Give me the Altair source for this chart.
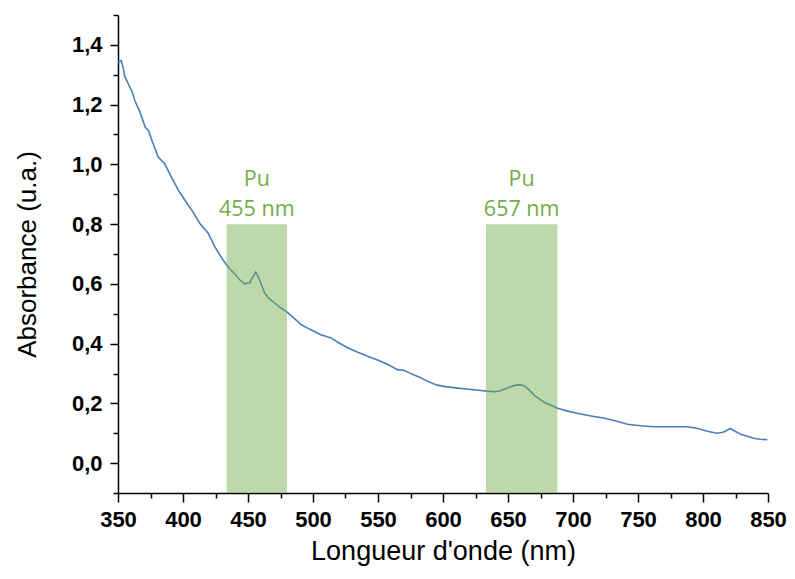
import altair as alt
import pandas as pd

wavelength = [350, 352.5, 354, 355, 358, 361, 363, 367, 371, 373.5, 377, 381, 386, 391, 396.5,
              401.5, 406.7, 413, 419.5, 424.5, 430, 435, 440, 444, 447.5, 451.3, 454, 456, 459,
              462.8, 466, 470.5, 475, 479.4, 485, 491, 498, 506, 514, 520, 526.6, 534, 542, 552,
              558, 565, 570, 576, 582.8, 589, 595.6, 602, 609.6, 618, 627.4, 634, 640, 644, 648,
              652, 655.5, 659, 662, 666, 671, 678.5, 688.7, 696, 704, 714, 724.4, 733, 742, 752,
              762.7, 775, 788, 796, 804, 811, 816, 821, 825, 829, 834, 839, 844, 849.5]
absorbance = [1.341, 1.347, 1.324, 1.297, 1.269, 1.241, 1.213, 1.174, 1.124, 1.113, 1.069, 1.024,
              1.002, 0.958, 0.913, 0.88, 0.847, 0.802, 0.769, 0.724, 0.685, 0.655, 0.632, 0.612,
              0.600, 0.604, 0.625, 0.639, 0.613, 0.569, 0.552, 0.536, 0.52, 0.508, 0.487, 0.463,
              0.447, 0.43, 0.419, 0.402, 0.386, 0.372, 0.358, 0.341, 0.329, 0.313, 0.311, 0.298,
              0.286, 0.272, 0.261, 0.256, 0.252, 0.248, 0.244, 0.241, 0.239, 0.242, 0.249, 0.256,
              0.261, 0.262, 0.26, 0.246, 0.224, 0.202, 0.183, 0.174, 0.166, 0.158, 0.15, 0.141,
              0.13, 0.125, 0.122, 0.122, 0.122, 0.116, 0.106, 0.1, 0.104, 0.116, 0.106, 0.097,
              0.09, 0.083, 0.08, 0.078]

band_start = [433.5, 633]
band_end = [480, 688]
band_top = [0.8, 0.8]
band_label = [["Pu", "455 nm"], ["Pu", "657 nm"]]

x_major = list(range(350, 851, 50))
x_minor = list(range(375, 826, 50))
y_major = [0.0, 0.2, 0.4, 0.6, 0.8, 1.0, 1.2, 1.4]
y_minor = [-0.1, 0.1, 0.3, 0.5, 0.7, 0.9, 1.1, 1.3, 1.5]

spec = pd.DataFrame({"wl": wavelength, "abs": absorbance})
bands = pd.DataFrame({"x": band_start, "x2": band_end, "top": band_top,
                      "bottom": [-0.1, -0.1],
                      "mid": [(a + b) / 2 for a, b in zip(band_start, band_end)],
                      "label": band_label})

xscale = alt.Scale(domain=[350, 850], nice=False, zero=False)
yscale = alt.Scale(domain=[-0.1, 1.5], nice=False, zero=False)

common = dict(grid=False, domainColor="black", tickColor="black",
              domainWidth=1.5, tickWidth=1.5)

xaxis = alt.Axis(
    title="Longueur d'onde (nm)", values=x_major, orient="bottom", tickSize=9,
    labelFont="Liberation Sans", labelFontWeight="bold", labelFontSize=22,
    labelColor="black", labelPadding=7, labelFlush=False, labelOverlap=False,
    titleFont="Liberation Sans", titleFontWeight="normal", titleFontSize=27,
    titleColor="black", titlePadding=8, **common,
)
yaxis = alt.Axis(
    title="Absorbance (u.a.)", values=y_major, orient="left", tickSize=8,
    labelExpr="replace(format(datum.value, '.1f'), '.', ',')",
    labelFont="Liberation Sans", labelFontWeight="bold", labelFontSize=22,
    labelColor="black", labelPadding=8, labelOverlap=False,
    titleFont="Liberation Sans", titleFontWeight="normal", titleFontSize=26,
    titleColor="black", titlePadding=31, **common,
)
xaxis_minor = alt.Axis(title=None, values=x_minor, orient="bottom", tickSize=5,
                       labels=False, domain=False, grid=False,
                       tickColor="black", tickWidth=1.5)
yaxis_minor = alt.Axis(title=None, values=y_minor, orient="left", tickSize=5,
                       labels=False, domain=False, grid=False,
                       tickColor="black", tickWidth=1.5)

minor = alt.Chart(spec).mark_line(opacity=0).encode(
    x=alt.X("wl:Q", scale=xscale, axis=xaxis_minor),
    y=alt.Y("abs:Q", scale=yscale, axis=yaxis_minor),
)

line = alt.Chart(spec).mark_line(color="#4a7ebb", strokeWidth=1.6).encode(
    x=alt.X("wl:Q", scale=xscale, axis=xaxis),
    y=alt.Y("abs:Q", scale=yscale, axis=yaxis),
)

rect = alt.Chart(bands).mark_rect(color="#70ad47", opacity=0.46).encode(
    x=alt.X("x:Q", scale=xscale, axis=xaxis),
    x2="x2:Q",
    y=alt.Y("top:Q", scale=yscale, axis=yaxis),
    y2="bottom:Q",
)

text = alt.Chart(bands).mark_text(
    color="#70ad47", font="Open Sans", fontSize=21.5, baseline="bottom",
    align="center", dy=-33, lineBreak="\n", lineHeight=30,
).encode(
    x=alt.X("mid:Q", scale=xscale, axis=xaxis),
    y=alt.Y("top:Q", scale=yscale, axis=yaxis),
    text="label",
)

main = alt.layer(line, rect, text)

chart = alt.layer(main, minor).resolve_scale(
    x="shared", y="shared"
).resolve_axis(
    x="independent", y="independent"
).properties(
    width=650, height=478,
    autosize=alt.AutoSizeParams(type="none"),
    padding={"left": 110, "top": 7, "right": 19, "bottom": 78},
).configure_view(stroke=None)

chart.save("out.html", embed_options={"renderer": "svg", "actions": False})
